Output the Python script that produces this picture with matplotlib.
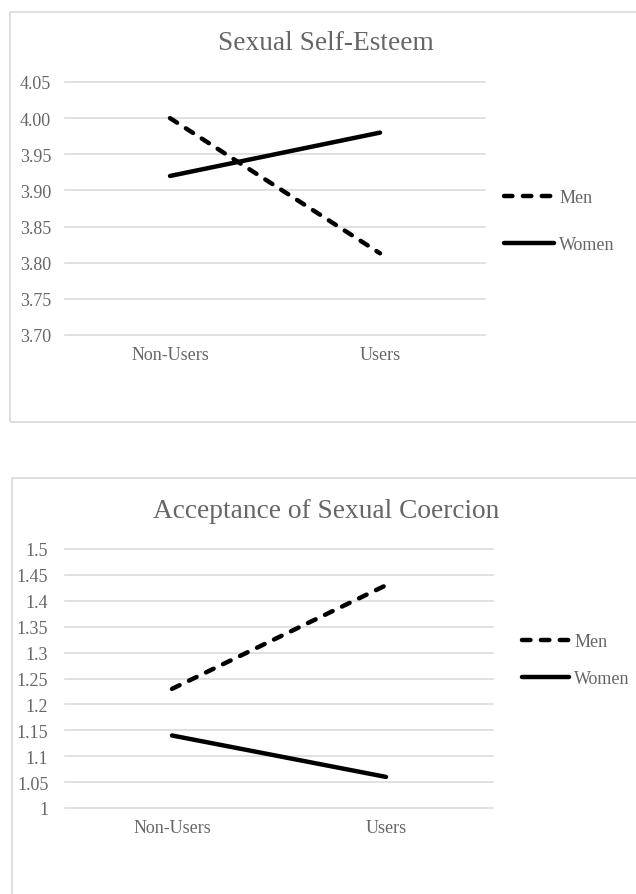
import matplotlib
matplotlib.use('Agg')
import matplotlib.pyplot as plt
from matplotlib.patches import Rectangle
from matplotlib.lines import Line2D

plt.rcParams['font.family'] = ['Liberation Serif', 'DejaVu Serif']

# data
groups = ['Non-Users', 'Users']
series_names = ['Men', 'Women']

esteem_title = 'Sexual Self-Esteem'
esteem_men = [4.00, 3.813]
esteem_women = [3.92, 3.98]
esteem_ticks = [3.70, 3.75, 3.80, 3.85, 3.90, 3.95, 4.00, 4.05]
esteem_labels = ['3.70', '3.75', '3.80', '3.85', '3.90', '3.95', '4.00', '4.05']

coercion_title = 'Acceptance of Sexual Coercion'
coercion_men = [1.23, 1.43]
coercion_women = [1.14, 1.06]
coercion_ticks = [1.0, 1.05, 1.1, 1.15, 1.2, 1.25, 1.3, 1.35, 1.4, 1.45, 1.5]
coercion_labels = ['1', '1.05', '1.1', '1.15', '1.2', '1.25', '1.3', '1.35', '1.4', '1.45', '1.5']

W, H = 636, 895
TEXT = '#666666'
GRID = '#d9d9d9'
LW = 3.2
DASH = [1.9, 2.35]
FS = 13

fig = plt.figure(figsize=(W / 100, H / 100), dpi=100)


def px_box(x0, y0, x1, y1):
    # pixel box (top-left origin) -> figure fraction rect
    return [x0 / W, 1 - y1 / H, (x1 - x0) / W, (y1 - y0) / H]


def panel(frame, plot, title, title_y, men, women, ticks, labels, leg_xy, ypad,
          handle_len, spacing):
    fx0, fy0, fx1, fy1 = frame
    fig.patches.append(Rectangle((fx0 / W, 1 - fy1 / H), (fx1 - fx0) / W, (fy1 - fy0) / H,
                                 transform=fig.transFigure, fill=False, edgecolor=GRID,
                                 linewidth=1.2))
    ax = fig.add_axes(px_box(*plot))
    x = list(range(len(groups)))
    ax.plot(x, men, color='black', linewidth=LW, dashes=DASH,
            dash_capstyle='round', solid_capstyle='round', label=series_names[0])
    ax.plot(x, women, color='black', linewidth=LW, solid_capstyle='round',
            label=series_names[1])
    ax.set_xlim(-0.5, len(groups) - 0.5)
    ax.set_ylim(ticks[0], ticks[-1])
    ax.set_yticks(ticks)
    ax.set_yticklabels(labels)
    ax.set_xticks(x)
    ax.set_xticklabels(groups)
    for s in ax.spines.values():
        s.set_visible(False)
    ax.tick_params(axis='y', length=0, pad=ypad, labelsize=FS, labelcolor=TEXT)
    ax.tick_params(axis='x', length=0, pad=8, labelsize=FS, labelcolor=TEXT)
    ax.grid(axis='y', color=GRID, linewidth=1.1)
    ax.set_axisbelow(True)
    for gl in ax.get_ygridlines():
        gl.set_clip_on(False)

    # title is centred on the chart frame, not on the plot area
    fig.text(326 / W, 1 - title_y / H, title, ha='center', va='center',
             fontsize=19.7, color=TEXT)

    handles = [Line2D([], [], color='black', linewidth=LW, dashes=DASH,
                      dash_capstyle='round'),
               Line2D([], [], color='black', linewidth=LW, solid_capstyle='round')]
    fig.legend(handles, series_names, loc='upper left',
               bbox_to_anchor=(leg_xy[0] / W, 1 - leg_xy[1] / H), frameon=False,
               fontsize=FS, labelcolor=TEXT, handlelength=handle_len, handletextpad=0.3,
               labelspacing=spacing, borderpad=0, borderaxespad=0)
    return ax


panel((10, 13, 645, 423), (65, 83, 485, 336), esteem_title, 44,
      esteem_men, esteem_women, esteem_ticks, esteem_labels, (504, 190), 10, 2.75, 1.67)
panel((12, 479, 645, 905), (65, 550, 493, 809), coercion_title, 511,
      coercion_men, coercion_women, coercion_ticks, coercion_labels, (522, 634), 12, 2.6, 1.11)

fig.savefig('out.png', dpi=100, facecolor='white')
